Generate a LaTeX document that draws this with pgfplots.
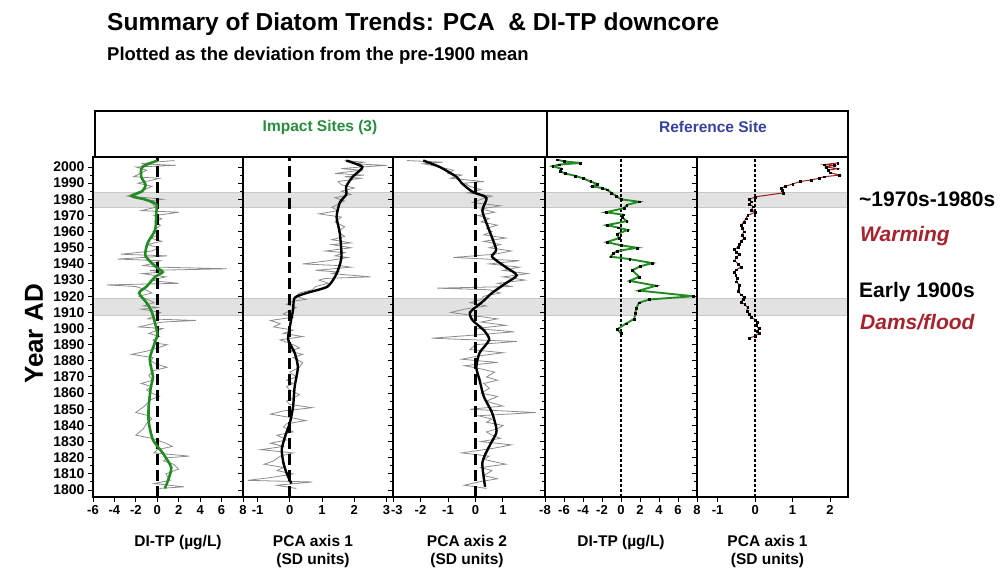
\documentclass[border=0pt]{standalone}
\usepackage{pgfplots}
\pgfplotsset{compat=1.18}
\usepackage{fontspec}
\setmainfont{Liberation Sans}

\definecolor{trendgreen}{RGB}{34,139,34}
\definecolor{impactgreen}{RGB}{40,140,60}
\definecolor{refblue}{RGB}{55,65,160}
\definecolor{eventred}{RGB}{165,35,45}
\definecolor{pcared}{RGB}{160,30,30}
\definecolor{rawgray}{RGB}{140,140,140}
\definecolor{bandfill}{RGB}{226,226,226}
\definecolor{bandedge}{RGB}{200,200,200}

\pgfplotsset{
  core/.style={
    scale only axis, height=340pt, anchor=south west,
    ymin=1795.7, ymax=2006.2,
    ytick={1800,1810,...,2000},
    minor ytick={1805,1815,...,1995},
    yticklabels={},
    ytick pos=left, xtick pos=bottom,
    tick align=outside,
    major tick length=5pt, minor tick length=3pt,
    every tick/.style={black, line width=1pt},
    axis line style={black, line width=1.4pt},
    axis on top,
    ticklabel style={font=\bfseries\fontsize{13}{13}\selectfont},
    x label style={font=\bfseries\fontsize{15.5}{18}\selectfont, align=center,
      at={(axis description cs:0.5,0)}, anchor=base, yshift=-49pt},
  },
  twoline/.style={x label style={yshift=-18pt}},
  band/.style={fill=bandfill, draw=bandedge, line width=0.5pt, forget plot},
  zerodash/.style={black, line width=3pt, dash pattern=on 11pt off 5pt},
  zerodot/.style={black, line width=2.5pt, dash pattern=on 2.6pt off 2.4pt},
  raw/.style={rawgray, line width=0.8pt},
}

\begin{document}
\begin{tikzpicture}[x=1pt,y=1pt]
\useasboundingbox (0,0) rectangle (1001,570);

% titles
\node[anchor=base west, inner sep=0pt, font=\bfseries\fontsize{24.5}{28}\selectfont]
  at (107,539) {Summary of Diatom Trends: PCA\ \ \& DI-TP downcore};
\node[anchor=base west, inner sep=0pt, font=\bfseries\fontsize{18.5}{22}\selectfont]
  at (107,509) {Plotted as the deviation from the pre-1900 mean};

% site group headers
\draw[line width=1.5pt] (95,413) rectangle (547,459);
\draw[line width=1.5pt] (547,413) rectangle (848,459);
\node[font=\bfseries\fontsize{15.5}{18}\selectfont, text=impactgreen] at (320,443) {Impact Sites (3)};
\node[font=\bfseries\fontsize{15.5}{18}\selectfont, text=refblue] at (713,443) {Reference Site};

% vertical axis title
\node[rotate=90, font=\bfseries\fontsize{26}{26}\selectfont] at (34,236) {Year AD};

% event annotations
\node[anchor=base west, inner sep=0pt, font=\bfseries\fontsize{21}{24}\selectfont] at (859,363) {\char"007E 1970s-1980s};
\node[anchor=base west, inner sep=0pt, font=\bfseries\itshape\fontsize{21}{24}\selectfont, text=eventred] at (860,328) {Warming};
\node[anchor=base west, inner sep=0pt, font=\bfseries\fontsize{21}{24}\selectfont] at (859,272) {Early 1900s};
\node[anchor=base west, inner sep=0pt, font=\bfseries\itshape\fontsize{21}{24}\selectfont, text=eventred] at (860,240) {Dams/flood};

% ---------- Impact sites: DI-TP ----------
\begin{axis}[core, at={(93pt,73pt)}, width=150pt,
  xmin=-6, xmax=8, xtick={-6,-4,...,8}, xticklabels={-6,-4,-2,0,2,4,6,8},
  yticklabels={1800,1810,1820,1830,1840,1850,1860,1870,1880,1890,1900,1910,1920,1930,1940,1950,1960,1970,1980,1990,2000},
  yticklabel style={font=\bfseries\fontsize{14}{14}\selectfont},
  xlabel={DI-TP (\textmu g/L)}, x label style={xshift=10pt}]
\addplot[band] coordinates {(-100,1975) (100,1975) (100,1984.5) (-100,1984.5)} -- cycle;
\addplot[band] coordinates {(-100,1908) (100,1908) (100,1919) (-100,1919)} -- cycle;
\addplot[raw] coordinates {
(1.6,2004) (-0.3,2003) (-1.5,2002) (1.7,2001) (-2.0,2000) (-1.0,1998) (-1.6,1996)
(-2.2,1994) (0.2,1993) (-0.4,1992) (-1.8,1990) (-0.5,1988) (-1.2,1986) (-2.0,1984)
(-2.8,1982) (-1.0,1981) (0.5,1980) (-0.8,1979) (-0.4,1977) (-0.2,1975) (-1.5,1973)
(2.0,1972) (1.0,1971) (-0.3,1970) (0.4,1968) (-0.2,1966) (0.3,1964) (-0.1,1962)
(-0.4,1960) (0.1,1958) (-0.6,1956) (0.4,1954) (-0.9,1952) (0.1,1950) (-0.5,1948)
(-3.4,1946) (0.9,1945) (-1.3,1944) (-3.7,1943) (0.3,1942) (-0.6,1940) (-1.3,1939)
(0.2,1938) (6.5,1937) (-0.7,1936) (0.5,1935) (-1.4,1934) (0.8,1932) (-0.6,1930)
(0.4,1929) (2.0,1928) (-4.7,1927) (-2.0,1926) (-1.1,1924) (-0.5,1922) (-1.7,1920)
(-0.9,1918) (-0.3,1916) (-1.3,1914) (0.2,1913) (-1.5,1912) (0.3,1910) (-0.2,1908)
(-0.9,1906) (3.6,1905) (0.5,1904) (-0.4,1903) (-1.7,1901) (0.5,1900) (-0.8,1897)
(0.2,1895) (-0.4,1893) (-0.2,1891) (0.9,1890) (0.0,1888) (-1.0,1886) (-2.4,1884)
(-0.4,1882) (-0.6,1880) (-0.1,1878) (0.9,1876) (-0.3,1874) (-0.8,1871) (-0.4,1868)
(-1.5,1866) (-0.5,1864) (-1.0,1862) (-0.5,1860) (0.2,1858) (-0.6,1856) (-1.2,1852)
(-2.0,1848) (-0.8,1846) (-0.5,1844) (-0.9,1842) (-1.3,1838) (-2.0,1834) (-0.5,1832)
(0.8,1829) (1.4,1827) (0.0,1825) (-0.3,1823) (3.0,1821) (0.9,1820) (0.6,1818)
(1.5,1816) (2.0,1813) (0.8,1810) (1.2,1806) (-0.3,1804) (2.5,1802) (0.2,1801)
};
\addplot[zerodash] coordinates {(0,1795.7) (0,2006.2)};
\addplot[trendgreen, line width=2.6pt, smooth, tension=0.4] coordinates {
(0.0,2004) (-1.4,2000) (-1.5,1994) (-1.1,1989) (-1.4,1985) (-2.4,1982) (-1.2,1980)
(-0.1,1977) (-0.1,1971) (-0.2,1961) (-0.9,1953) (-1.1,1945) (-0.1,1938) (0.5,1935)
(-0.2,1932) (-1.0,1926) (-1.7,1922) (-1.0,1916) (-0.5,1910) (0.0,1897) (-0.3,1890)
(-0.7,1881) (-0.4,1870) (-0.6,1864) (-0.8,1852) (-0.8,1842) (-0.4,1831) (0.5,1823)
(1.3,1814) (1.0,1806) (0.7,1801)
};
\end{axis}

% ---------- Impact sites: PCA axis 1 ----------
\begin{axis}[core, twoline, at={(243pt,73pt)}, width=150pt,
  xmin=-1.45, xmax=3.2, xtick={-1,0,1,2,3}, xticklabels={-1,0,1,2,3},
  xlabel={PCA axis 1\\(SD units)}, x label style={xshift=-5pt}]
\addplot[band] coordinates {(-100,1975) (100,1975) (100,1984.5) (-100,1984.5)} -- cycle;
\addplot[band] coordinates {(-100,1908) (100,1908) (100,1919) (-100,1919)} -- cycle;
\addplot[raw] coordinates {
(1.7,2004) (2.3,2003) (2.0,2002) (3.0,2001) (2.2,2000) (1.6,1999) (2.2,1998)
(1.4,1996) (2.3,1995) (1.7,1994) (2.2,1993) (1.5,1991) (1.6,1989) (2.0,1987)
(1.6,1985) (1.9,1983) (1.4,1981) (1.7,1979) (1.5,1977) (1.3,1975) (1.5,1973)
(0.9,1971) (1.6,1969) (1.4,1966) (1.7,1963) (1.5,1960) (1.7,1957) (1.3,1955)
(1.9,1953) (1.3,1952) (1.9,1950) (1.1,1948) (1.7,1947) (1.4,1945) (1.8,1944)
(1.2,1942) (0.4,1940) (1.5,1939) (1.9,1938) (0.8,1936) (1.5,1935) (1.3,1934)
(2.5,1932) (1.1,1931) (0.9,1930) (1.2,1928) (0.8,1926) (0.7,1924) (0.3,1922)
(0.2,1920) (0.5,1918) (0.1,1917) (-0.1,1915) (0.2,1913) (0.0,1911) (-0.2,1909)
(0.1,1907) (-0.6,1905) (-0.3,1903) (-0.5,1901) (0.1,1899) (-0.2,1897) (0.4,1895)
(-0.3,1893) (0.1,1890) (0.3,1888) (0.0,1886) (0.4,1884) (0.1,1882) (0.4,1879)
(0.3,1876) (0.0,1873) (0.2,1870) (-0.1,1868) (0.1,1866) (-0.1,1864) (0.0,1862)
(0.3,1859) (0.1,1857) (-0.1,1855) (0.0,1853) (0.7,1851) (-0.2,1849) (-0.6,1847)
(0.0,1845) (0.5,1843) (-0.1,1841) (-0.2,1839) (0.1,1836) (-0.4,1834) (-0.1,1831)
(-0.6,1829) (-0.2,1827) (-0.9,1825) (0.1,1823) (-0.3,1821) (-0.5,1818) (-0.8,1816)
(-0.2,1814) (-0.4,1812) (0.1,1810) (-0.5,1808) (-1.3,1806) (0.7,1805) (-0.4,1803)
(0.2,1801)
};
\addplot[zerodash] coordinates {(0,1795.7) (0,2006.2)};
\addplot[black, line width=2.4pt, smooth, tension=0.4] coordinates {
(1.75,2004) (2.25,2000) (1.95,1994) (1.75,1988) (1.75,1983) (1.55,1978) (1.45,1969)
(1.55,1959) (1.6,1944) (1.45,1934) (1.17,1926) (0.52,1922) (0.15,1919) (0.1,1911.5)
(0.0,1901) (-0.05,1893) (0.15,1885) (0.25,1876) (0.15,1864) (0.1,1851.5) (0.0,1841.5)
(-0.15,1833) (-0.25,1825) (-0.2,1817) (-0.1,1810.5) (0.05,1804)
};
\end{axis}

% ---------- Impact sites: PCA axis 2 ----------
\begin{axis}[core, twoline, at={(393pt,73pt)}, width=152pt,
  xmin=-3, xmax=2.53, xtick={-3,-2,-1,0,1}, xticklabels={\rlap{\kern-2pt-3},-2,-1,0,1},
  xlabel={PCA axis 2\\(SD units)}, x label style={xshift=-2pt}]
\addplot[band] coordinates {(-100,1975) (100,1975) (100,1984.5) (-100,1984.5)} -- cycle;
\addplot[band] coordinates {(-100,1908) (100,1908) (100,1919) (-100,1919)} -- cycle;
\addplot[raw] coordinates {
(-2.5,2004) (-1.2,2003) (-1.9,2002) (-1.3,2000) (-0.8,1998) (-1.0,1996) (-0.5,1995)
(-0.9,1993) (0.3,1991) (-0.4,1990) (-0.2,1988) (0.2,1986) (-0.3,1984) (0.6,1982)
(0.2,1980) (-0.1,1978) (0.9,1976) (0.2,1974) (0.7,1972) (0.1,1970) (0.5,1968)
(0.2,1966) (0.8,1964) (0.4,1962) (0.6,1960) (0.3,1958) (1.1,1956) (0.3,1954)
(0.9,1952) (0.5,1950) (1.3,1948) (0.7,1946) (-0.8,1944) (1.6,1942) (0.5,1940)
(1.6,1938) (1.0,1936) (1.9,1934) (1.0,1932) (1.8,1930) (0.8,1928) (1.3,1926)
(-1.4,1925) (0.5,1924) (0.9,1922) (0.3,1920) (0.2,1918) (-0.2,1916) (0.4,1914)
(-0.4,1912) (-0.9,1910) (-0.1,1908) (0.8,1906) (0.2,1904) (1.1,1902) (0.0,1900)
(1.4,1898) (0.0,1896) (-1.6,1894) (1.5,1892) (0.0,1890) (-0.2,1887) (1.0,1885)
(0.1,1883) (-0.5,1881) (0.8,1879) (-0.4,1877) (0.2,1875) (0.7,1873) (0.4,1870)
(0.8,1868) (0.3,1866) (0.5,1863) (0.2,1860) (0.8,1858) (0.4,1855) (1.0,1852)
(-0.2,1850) (2.2,1848) (0.1,1846) (0.6,1844) (0.4,1842) (1.0,1840) (0.8,1838)
(0.4,1836) (0.6,1834) (0.9,1832) (0.2,1830) (1.3,1828) (0.7,1826) (-0.5,1823)
(0.5,1821) (0.3,1819) (1.1,1816) (0.2,1814) (0.6,1812) (0.3,1809) (0.8,1807)
(0.1,1805) (-0.4,1803) (0.4,1801)
};
\addplot[zerodash] coordinates {(0,1795.7) (0,2006.2)};
\addplot[black, line width=2.4pt, smooth, tension=0.4] coordinates {
(-1.9,2004) (-1.3,2000) (-0.7,1994) (-0.5,1990) (-0.1,1984.5) (0.4,1981) (0.25,1973)
(0.45,1963) (0.75,1949) (0.6,1944.5) (1.1,1938) (1.5,1933) (1.1,1928) (0.6,1922)
(0.25,1916.5) (-0.2,1910) (-0.1,1905) (0.3,1899) (0.5,1893) (0.15,1885) (0.03,1876)
(0.15,1868) (0.3,1858) (0.6,1848) (0.75,1839) (0.75,1835) (0.5,1827) (0.25,1817)
(0.35,1802)
};
\end{axis}

% ---------- Reference site: DI-TP ----------
\begin{axis}[core, at={(545pt,73pt)}, width=152pt,
  xmin=-8, xmax=8, xtick={-8,-6,...,8}, xticklabels={-8,-6,-4,-2,0,2,4,6,8},
  xlabel={DI-TP (\textmu g/L)}]
\addplot[band] coordinates {(-100,1975) (100,1975) (100,1984.5) (-100,1984.5)} -- cycle;
\addplot[band] coordinates {(-100,1908) (100,1908) (100,1919) (-100,1919)} -- cycle;
\addplot[zerodot] coordinates {(0,1795.7) (0,2006.2)};
\addplot[trendgreen, line width=1.9pt, mark=square*, mark size=0.9pt,
  mark options={black, fill=black, line width=0.3pt}] coordinates {
(-6.7,2004.5) (-6.0,2003.5) (-4.3,2002.5) (-6.5,2001.5) (-7.2,2000.5) (-6.3,1999)
(-6.4,1997.5) (-5.9,1996) (-4.8,1994.5) (-4.0,1993) (-3.2,1991) (-2.5,1989.5)
(-3.0,1988) (-2.0,1987) (-1.5,1986) (-1.0,1984) (-0.5,1982) (0.0,1980) (1.9,1978.5)
(0.6,1976.5) (0.3,1974.5) (-1.6,1972) (0.2,1970.5) (0.1,1969) (0.6,1966.5)
(-1.5,1964) (-0.3,1962.5) (0.7,1961) (-0.4,1958.5) (-0.2,1956) (-1.5,1953.5)
(0.0,1951.5) (1.7,1950) (-0.4,1948) (-0.8,1946.5) (-1.1,1944.5) (0.9,1943)
(3.3,1940.5) (2.0,1938.5) (1.2,1936) (1.9,1932) (0.9,1929.5) (3.7,1926.5)
(1.9,1923.5) (7.6,1920) (3.0,1918) (1.9,1916) (1.6,1912.5) (1.5,1909.5) (1.4,1906)
(0.5,1903) (-0.4,1899.5) (0.0,1897)
};
\end{axis}

% ---------- Reference site: PCA axis 1 ----------
\begin{axis}[core, twoline, at={(697pt,73pt)}, width=151pt,
  xmin=-1.55, xmax=2.48, xtick={-1,0,1,2}, xticklabels={-1,0,1,2},
  xlabel={PCA axis 1\\(SD units)}, x label style={xshift=-5pt}]
\addplot[band] coordinates {(-100,1975) (100,1975) (100,1984.5) (-100,1984.5)} -- cycle;
\addplot[band] coordinates {(-100,1908) (100,1908) (100,1919) (-100,1919)} -- cycle;
\addplot[zerodot] coordinates {(0,1795.7) (0,2006.2)};
\addplot[pcared, line width=1pt, mark=square*, mark size=0.9pt,
  mark options={black, fill=black, line width=0.3pt}] coordinates {
(2.2,2002.5) (1.85,2001.5) (2.1,2001) (1.9,2000) (2.2,1999) (1.95,1998) (2.0,1996.5)
(2.25,1995) (1.85,1994) (1.7,1993) (1.5,1992) (1.2,1991) (1.0,1989.5) (0.8,1988)
(0.7,1987) (0.72,1985.5) (0.75,1984) (0.0,1981.5) (-0.15,1980) (-0.1,1978.5)
(-0.15,1977) (-0.05,1975.5) (-0.1,1973.5) (0.0,1972) (-0.2,1970) (-0.25,1968)
(-0.3,1966) (-0.38,1964) (-0.35,1962) (-0.3,1960) (-0.35,1958) (-0.3,1956)
(-0.38,1954) (-0.42,1952) (-0.45,1950.5) (-0.55,1949) (-0.5,1947.5) (-0.42,1946)
(-0.5,1944) (-0.55,1942) (-0.45,1940) (-0.38,1938) (-0.5,1936.5) (-0.55,1935)
(-0.52,1933) (-0.48,1931) (-0.5,1929) (-0.42,1927) (-0.44,1925) (-0.45,1923)
(-0.38,1921) (-0.3,1919.5) (-0.32,1918) (-0.38,1916.5) (-0.28,1915) (-0.2,1913)
(-0.22,1911) (-0.15,1909) (-0.1,1907) (0.0,1905.5) (0.05,1904) (0.02,1902)
(0.1,1900) (0.05,1898.5) (0.1,1897) (0.0,1895.5) (-0.15,1894)
};
\end{axis}
\end{tikzpicture}
\end{document}
